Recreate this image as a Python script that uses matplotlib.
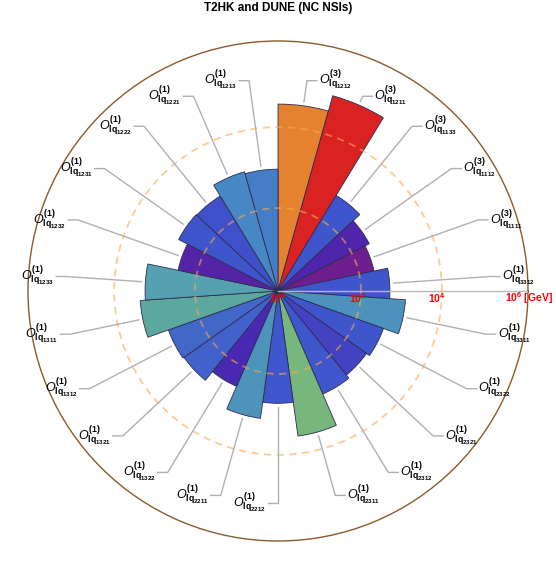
import numpy as np
import matplotlib.pyplot as plt
from matplotlib.colors import LinearSegmentedColormap, Normalize

plt.rcParams['font.family'] = ['Liberation Sans', 'DejaVu Sans']
plt.rcParams['mathtext.fontset'] = 'custom'
plt.rcParams['mathtext.rm'] = 'Liberation Sans'
plt.rcParams['mathtext.it'] = 'Liberation Sans:italic'
plt.rcParams['mathtext.bf'] = 'Liberation Sans:bold'

# operators, clockwise from 12 o'clock
operators = ['1212', '1211', '1133', '1112', '1111', '3312', '3311', '2322',
             '2321', '2312', '2311', '2212', '2211', '1322', '1321', '1312',
             '1311', '1233', '1232', '1231', '1222', '1221', '1213']
triplet = [3, 3, 3, 3, 3] + [1] * 18
# log10 of the scale in GeV
log_scale = [4.71, 5.11, 2.82, 2.59, 2.47, 2.82, 3.22, 2.82, 2.73, 2.83,
             3.69, 2.83, 3.24, 2.62, 2.90, 2.93, 3.48, 3.35, 2.57, 2.82,
             2.80, 3.12, 3.07]
rings = [2.09, 4.13]
tick_exp = [0, 2, 4, 6]

RMAX = 6.30
n = len(operators)
step = 360.0 / n
theta_deg = 90 - (np.arange(n) + 0.5) * step
theta = np.radians(theta_deg)

rainbow = LinearSegmentedColormap.from_list('rainbow_mma', [
    (0.00, '#6e1e8e'), (0.05, '#4a26b0'), (0.13, '#3f55cc'),
    (0.25, '#4688c4'), (0.33, '#55a0b0'), (0.40, '#5eab98'),
    (0.47, '#7ab87a'), (0.60, '#b8c050'), (0.70, '#ddb83c'),
    (0.85, '#e5832f'), (1.00, '#da2222')])
norm = Normalize(min(log_scale), max(log_scale))
colors = rainbow(norm(log_scale))

fig = plt.figure(figsize=(5.56, 5.70), dpi=100)
rect = [28 / 556, 29 / 570, 500 / 556, 500 / 570]

ax = fig.add_axes(rect, projection='polar')
ax.bar(theta, log_scale, width=np.radians(step), color=colors,
       edgecolor='#2c2c50', linewidth=0.6, zorder=2)
ax.set_ylim(0, RMAX)
ax.grid(False)
ax.set_xticks([])
ax.set_yticks([])
ax.spines['polar'].set_color('#8b5a2b')
ax.spines['polar'].set_linewidth(1.0)

circ = np.linspace(0, 2 * np.pi, 500)
for rr in rings:
    ax.plot(circ, np.full_like(circ, rr), color='#ffa54f', lw=1.3,
            ls=(0, (4, 3)), alpha=0.6, zorder=3)
ax.plot([0, 0], [0, RMAX], color='#b8b8b8', lw=1, zorder=4)

# overlay for callouts and axis labels
lax = fig.add_axes(rect)
lax.set_xlim(-RMAX, RMAX)
lax.set_ylim(-RMAX, RMAX)
lax.axis('off')
lax.patch.set_alpha(0)

r_corner = 5.35
for i in range(n):
    c, s = np.cos(theta[i]), np.sin(theta[i])
    side = 1 if c > 1e-9 else -1
    r0 = log_scale[i] + 0.1
    x1, y1 = r_corner * c, r_corner * s
    x2 = x1 + side * 0.25
    lax.plot([r0 * c, x1, x2], [r0 * s, y1, y1], color='#b0b0b0', lw=1)
    lbl = r'$O^{\mathbf{(%d)}}_{\mathbf{lq}_{\mathbf{%s}}}$' % (triplet[i], operators[i])
    lax.text(x2 + side * 0.05, y1, lbl, ha='left' if side > 0 else 'right',
             va='center', fontsize=9)

for e in tick_exp:
    if e < 6:
        lax.text(e, -0.17, r'$\mathbf{10^{%d}}$' % e, color='red',
                 ha='center', va='center', fontsize=7.5)
    else:
        lax.text(e - 0.28, -0.17, r'$\mathbf{10^{%d}}$' % e + ' [GeV]',
                 color='red', ha='left', va='center', fontsize=7.5,
                 fontweight='bold')

fig.text(0.5, 1 - 8 / 570, 'T2HK and DUNE (NC NSIs)', ha='center',
         va='center', fontsize=8.5, fontweight='bold')

fig.savefig('out.png', dpi=100)
